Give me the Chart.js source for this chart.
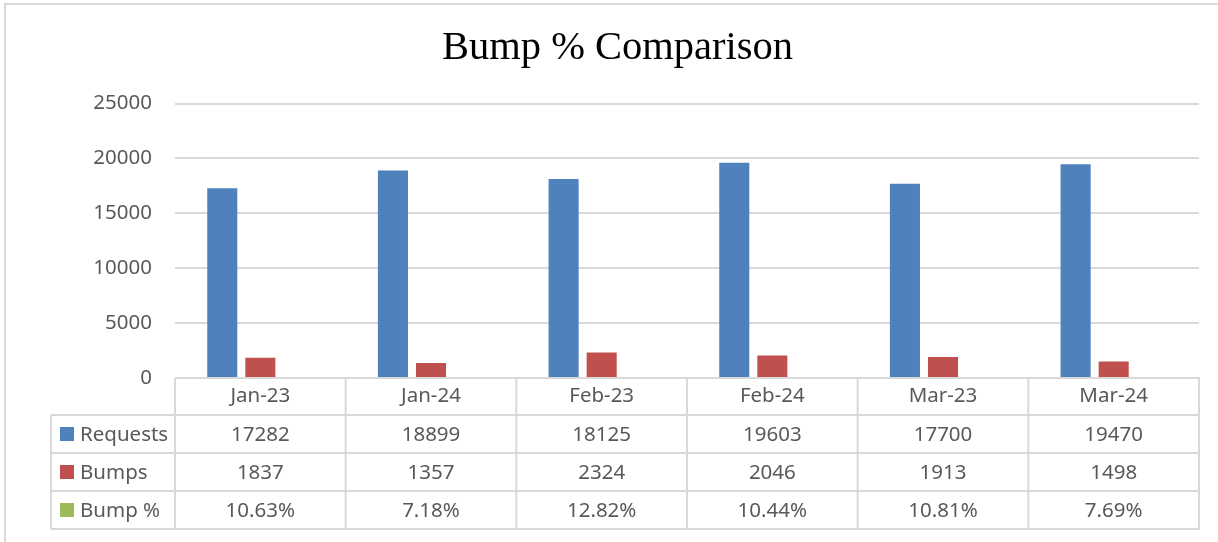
<!DOCTYPE html>
<html>
<head>
<meta charset="utf-8">
<script src="https://cdn.jsdelivr.net/npm/chart.js@4.4.1/dist/chart.umd.min.js"></script>
<style>
  html, body { margin: 0; padding: 0; background: #ffffff; }
  #wrap { width: 1218px; height: 542px; position: relative; }
</style>
</head>
<body>
<div id="wrap"><canvas id="chart" width="1218" height="542"></canvas></div>
<script>
// Monthly request volumes and bumps
const months = ['Jan-23', 'Jan-24', 'Feb-23', 'Feb-24', 'Mar-23', 'Mar-24'];
const requests = [17282, 18899, 18125, 19603, 17700, 19470];
const bumps = [1837, 1357, 2324, 2046, 1913, 1498];
const bumpPct = [10.63, 7.18, 12.82, 10.44, 10.81, 7.69];
const yTicks = [0, 5000, 10000, 15000, 20000, 25000];

const BLUE = '#4F81BD', RED = '#C0504D', GREEN = '#9BBB59';
const LINE = '#D9D9D9', TEXT = '#595959';
const FONT = '"Noto Sans", "Open Sans", sans-serif';
const FONT_SIZE = 20.5;

const rows = [
  { label: 'Requests', color: BLUE, values: requests.map(v => String(v)) },
  { label: 'Bumps', color: RED, values: bumps.map(v => String(v)) },
  { label: 'Bump %', color: GREEN, values: bumpPct.map(v => v.toFixed(2) + '%') }
];

// Data table under the plot, aligned to the category scale
const dataTable = {
  id: 'dataTable',
  beforeDraw(chart) {
    const ctx = chart.ctx;
    ctx.save();
    ctx.fillStyle = '#ffffff';
    ctx.fillRect(0, 0, chart.width, chart.height);
    // outer frame
    ctx.strokeStyle = LINE;
    ctx.lineWidth = 2;
    ctx.beginPath();
    ctx.moveTo(5, chart.height);
    ctx.lineTo(5, 4);
    ctx.lineTo(chart.width, 4);
    ctx.stroke();
    ctx.restore();
  },
  afterDraw(chart) {
    const ctx = chart.ctx;
    const x = chart.scales.x;
    const area = chart.chartArea;
    const n = months.length;
    const catW = (x.right - x.left) / n;
    const headTop = area.bottom;
    const rowH = 38;
    const firstRow = headTop + 37;
    const tableBottom = firstRow + rowH * rows.length;
    const labelLeft = 51;

    ctx.save();
    ctx.strokeStyle = LINE;
    ctx.lineWidth = 2;
    ctx.beginPath();
    // header row top
    ctx.moveTo(x.left, headTop); ctx.lineTo(x.right + 1, headTop);
    // row separators
    for (let r = 0; r <= rows.length; r++) {
      const yy = firstRow + r * rowH;
      ctx.moveTo(labelLeft, yy); ctx.lineTo(x.right + 1, yy);
    }
    // column separators
    for (let c = 0; c <= n; c++) {
      const xx = x.left + c * catW;
      ctx.moveTo(xx, headTop); ctx.lineTo(xx, tableBottom);
    }
    ctx.moveTo(labelLeft, firstRow); ctx.lineTo(labelLeft, tableBottom);
    ctx.stroke();

    ctx.font = FONT_SIZE + 'px ' + FONT;
    ctx.textBaseline = 'middle';
    rows.forEach((row, r) => {
      const cy = firstRow + r * rowH + rowH / 2;
      ctx.fillStyle = row.color;
      ctx.fillRect(60, cy - 7, 14, 14);
      ctx.fillStyle = TEXT;
      ctx.textAlign = 'left';
      ctx.fillText(row.label, 80, cy + 1);
      ctx.textAlign = 'center';
      row.values.forEach((v, c) => {
        ctx.fillText(v, x.getPixelForValue(c), cy + 1);
      });
    });
    ctx.restore();
  }
};

new Chart(document.getElementById('chart'), {
  type: 'bar',
  data: {
    labels: months,
    datasets: [
      { label: 'Requests', data: requests, backgroundColor: BLUE },
      { label: 'Bumps', data: bumps, backgroundColor: RED },
      { label: 'Bump %', data: bumpPct, backgroundColor: GREEN }
    ]
  },
  options: {
    responsive: false,
    animation: false,
    devicePixelRatio: 1,
    layout: { padding: { left: 36, right: 19, top: 0, bottom: 0 } },
    datasets: { bar: { categoryPercentage: 0.669, barPercentage: 0.79 } },
    plugins: {
      legend: { display: false },
      tooltip: { enabled: false },
      title: {
        display: true,
        text: 'Bump % Comparison',
        color: '#000000',
        font: { family: '"Liberation Serif", "DejaVu Serif", serif', size: 40.5, weight: 'normal' },
        padding: { top: 24, bottom: 31 }
      }
    },
    scales: {
      x: {
        grid: { display: false, drawTicks: false },
        border: { display: false },
        ticks: { color: TEXT, font: { family: FONT, size: FONT_SIZE }, padding: 6, maxRotation: 0 },
        afterFit(scale) { scale.height = 164; }
      },
      y: {
        min: 0,
        max: 25000,
        afterBuildTicks(scale) { scale.ticks = yTicks.map(v => ({ value: v })); },
        grid: { color: LINE, lineWidth: 2, drawTicks: false },
        border: { display: false },
        ticks: {
          color: TEXT,
          font: { family: FONT, size: FONT_SIZE },
          padding: 23,
          callback: v => String(v)
        },
        afterFit(scale) { scale.width = 139; }
      }
    }
  },
  plugins: [dataTable]
});
</script>
</body>
</html>
